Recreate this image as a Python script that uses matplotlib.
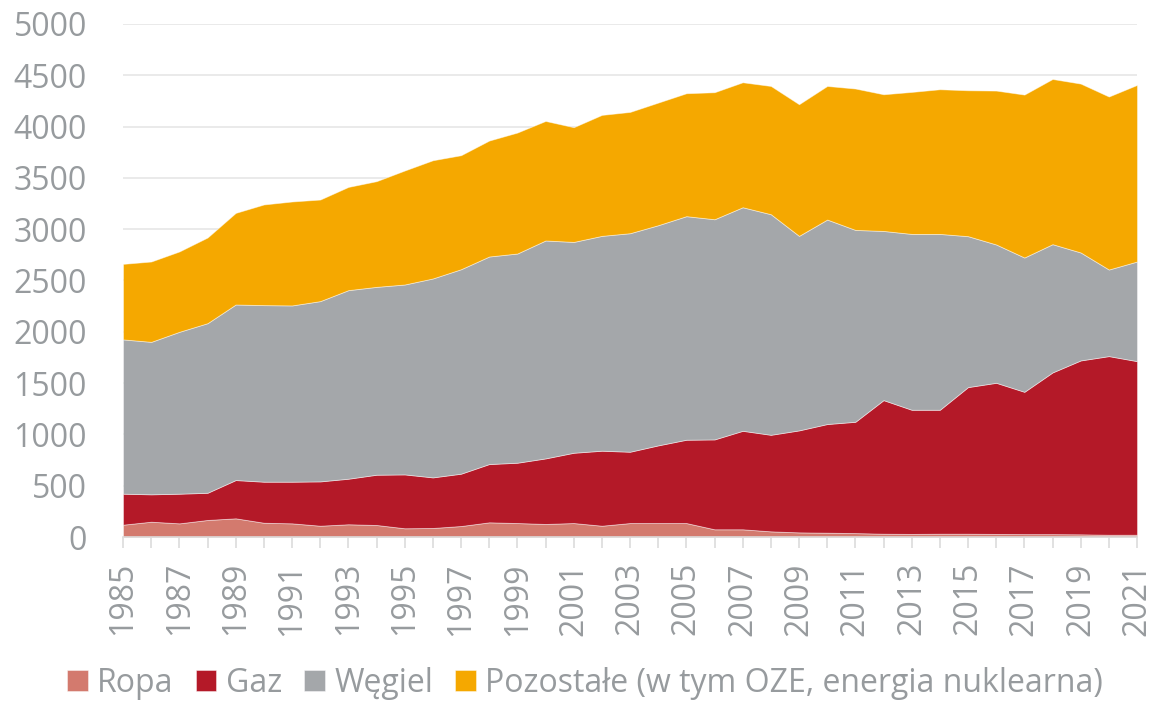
import matplotlib
matplotlib.use("Agg")
import matplotlib.pyplot as plt
import numpy as np

years = list(range(1985, 2022))

ropa = [120, 149, 133, 166, 182, 139, 133, 110, 124, 117, 85, 88, 107, 143, 136, 127,
        136, 110, 136, 136, 136, 75, 75, 55, 45, 42, 38, 32, 30, 32, 32, 30, 28, 28,
        26, 22, 22]
gaz = [302, 267, 289, 265, 373, 400, 406, 432, 444, 490, 525, 493, 510, 568, 588, 639,
       685, 731, 695, 757, 812, 876, 960, 941, 994, 1059, 1085, 1302, 1210, 1208, 1429,
       1473, 1387, 1576, 1695, 1741, 1692]
wegiel = [1504, 1486, 1578, 1653, 1711, 1721, 1718, 1757, 1838, 1831, 1851, 1939, 1993,
          2023, 2039, 2124, 2055, 2094, 2130, 2146, 2179, 2146, 2179, 2150, 1896, 1993,
          1870, 1649, 1714, 1714, 1471, 1348, 1309, 1250, 1052, 844, 971]
pozostale = [736, 783, 783, 835, 893, 981, 1013, 990, 1006, 1030, 1111, 1152, 1111, 1130,
             1179, 1165, 1118, 1179, 1182, 1195, 1198, 1238, 1218, 1250, 1283, 1302, 1378,
             1332, 1384, 1410, 1422, 1500, 1588, 1610, 1646, 1686, 1721]

labels = ["Ropa", "Gaz", "Węgiel", "Pozostałe (w tym OZE, energia nuklearna)"]
colors = ["#d37a6e", "#b41928", "#a4a7aa", "#f5a800"]
y_ticks = [0, 500, 1000, 1500, 2000, 2500, 3000, 3500, 4000, 4500, 5000]

plt.rcParams['font.family'] = ['Open Sans', 'DejaVu Sans']
text_color = "#979b9e"

fig = plt.figure(figsize=(11.53, 7.01), dpi=100)
ax = fig.add_axes([123/1153, 1 - 537/701, (1137 - 123)/1153, (537 - 24)/701])

ax.stackplot(years, ropa, gaz, wegiel, pozostale, colors=colors, labels=labels,
             edgecolor=(1, 1, 1, 0.5), linewidth=0.6)

ax.set_xlim(1985, 2021)
ax.set_ylim(0, 5000)
ax.set_yticks(y_ticks)
ax.set_yticklabels([str(v) for v in y_ticks])
ax.set_xticks(years)
ax.set_xticklabels([str(y) if (y - 1985) % 2 == 0 else "" for y in years], rotation=90)

ax.set_axisbelow(True)
ax.grid(axis='y', color="#e6e6e6", linewidth=1.2)
for s in ['top', 'right', 'left']:
    ax.spines[s].set_visible(False)
ax.spines['bottom'].set_color("#dcdcdc")
ax.spines['bottom'].set_linewidth(1.2)
ax.spines['bottom'].set_zorder(5)

ax.tick_params(axis='y', length=0, pad=26, labelsize=23, labelcolor=text_color)
ax.tick_params(axis='x', length=8, width=1.2, color="#dcdcdc", pad=10,
               labelsize=23, labelcolor=text_color)

fig.legend(loc='center', bbox_to_anchor=(585/1153, 1 - 683/701), ncol=4, frameon=False,
           fontsize=23, labelcolor=text_color, handlelength=0.65, handleheight=0.65,
           handletextpad=0.3, columnspacing=0.68, borderpad=0)

fig.savefig("out.png", dpi=100)
